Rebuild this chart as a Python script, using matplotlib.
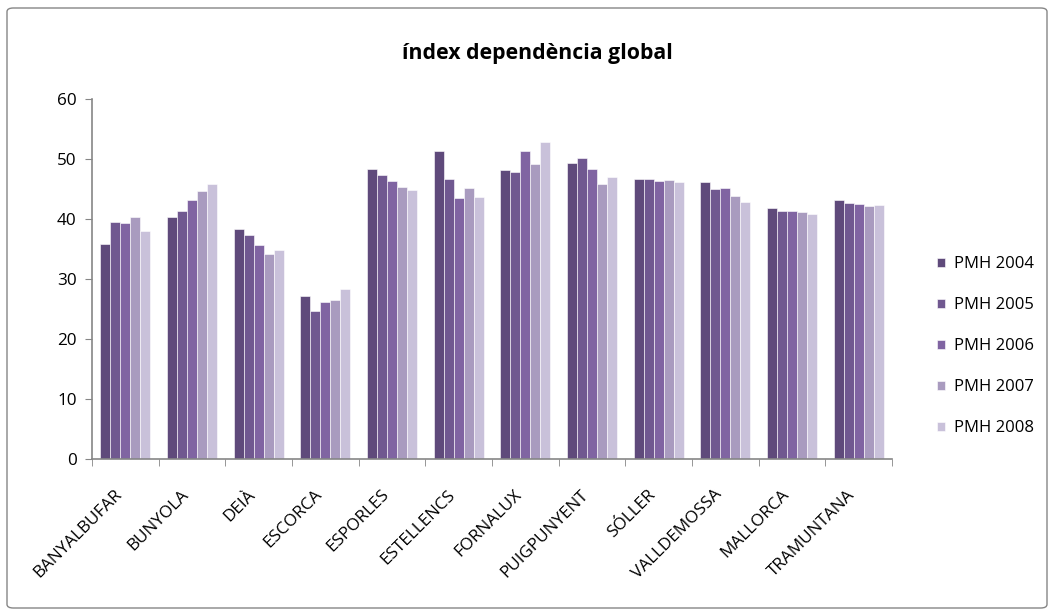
import numpy as np
import matplotlib
matplotlib.use("Agg")
import matplotlib.pyplot as plt
from matplotlib.patches import FancyBboxPatch

plt.rcParams['font.family'] = ['Open Sans', 'DejaVu Sans']

municipis = ['BANYALBUFAR', 'BUNYOLA', 'DEIÀ', 'ESCORCA', 'ESPORLES', 'ESTELLENCS',
             'FORNALUX', 'PUIGPUNYENT', 'SÓLLER', 'VALLDEMOSSA', 'MALLORCA', 'TRAMUNTANA']
series = ['PMH 2004', 'PMH 2005', 'PMH 2006', 'PMH 2007', 'PMH 2008']

pmh_2004 = [35.9, 40.4, 38.3, 27.1, 48.3, 51.4, 48.2, 49.4, 46.6, 46.2, 41.8, 43.2]
pmh_2005 = [39.5, 41.3, 37.4, 24.6, 47.3, 46.7, 47.8, 50.1, 46.6, 45.0, 41.3, 42.6]
pmh_2006 = [39.4, 43.2, 35.6, 26.2, 46.3, 43.5, 51.3, 48.3, 46.3, 45.1, 41.4, 42.5]
pmh_2007 = [40.3, 44.6, 34.2, 26.5, 45.4, 45.2, 49.2, 45.8, 46.5, 43.8, 41.1, 42.1]
pmh_2008 = [38.0, 45.8, 34.8, 28.3, 44.9, 43.7, 52.8, 47.0, 46.2, 42.9, 40.8, 42.4]

valors = [pmh_2004, pmh_2005, pmh_2006, pmh_2007, pmh_2008]
colors = ['#5f4a7b', '#705890', '#8064a2', '#a99bbf', '#c9c1da']

fig = plt.figure(figsize=(10.55, 6.15), dpi=100)
ax = fig.add_axes([92 / 1055, 1 - 459 / 615, (892 - 92) / 1055, (459 - 99) / 615])

# marc del grafic
fig.patches.append(FancyBboxPatch((7 / 1055, 7 / 615), 1040 / 1055, 600 / 615,
                                  boxstyle='round,pad=0,rounding_size=0.006',
                                  transform=fig.transFigure, fill=False,
                                  edgecolor='#868686', linewidth=1.0))

x = np.arange(len(municipis))
w = 0.15
for i in range(len(series)):
    ax.bar(x + (i - 2) * w, valors[i], width=w, color=colors[i],
           edgecolor='white', linewidth=0.4, label=series[i])

ax.set_xlim(-0.5, len(municipis) - 0.5)
ax.set_ylim(0, 60)
ax.set_yticks(range(0, 61, 10))
ax.set_xticks(x - 0.085)
ax.set_xticklabels(municipis, rotation=45, ha='right', va='center',
                   rotation_mode='anchor', fontsize=12.3)
ax.set_xticks(np.arange(-0.5, len(municipis), 1), minor=True)
ax.tick_params(axis='x', which='major', length=0, pad=24)
ax.tick_params(axis='x', which='minor', length=5, color='#868686', direction='out')
ax.tick_params(axis='y', length=5, color='#868686', labelsize=12.3, pad=6)

for s in ['top', 'right']:
    ax.spines[s].set_visible(False)
for s in ['left', 'bottom']:
    ax.spines[s].set_color('#868686')
    ax.spines[s].set_linewidth(1.2)

fig.text(537 / 1055, 1 - 53 / 615, 'índex dependència global', ha='center', va='center',
         fontsize=15.3, fontweight='bold')

ax.legend(loc='center left', bbox_to_anchor=(922 / 1055, 1 - 346 / 615),
          bbox_transform=fig.transFigure, frameon=False, fontsize=12,
          handlelength=0.45, handleheight=0.45, handletextpad=0.55, labelspacing=1.5)

fig.savefig('out.png', dpi=100)
